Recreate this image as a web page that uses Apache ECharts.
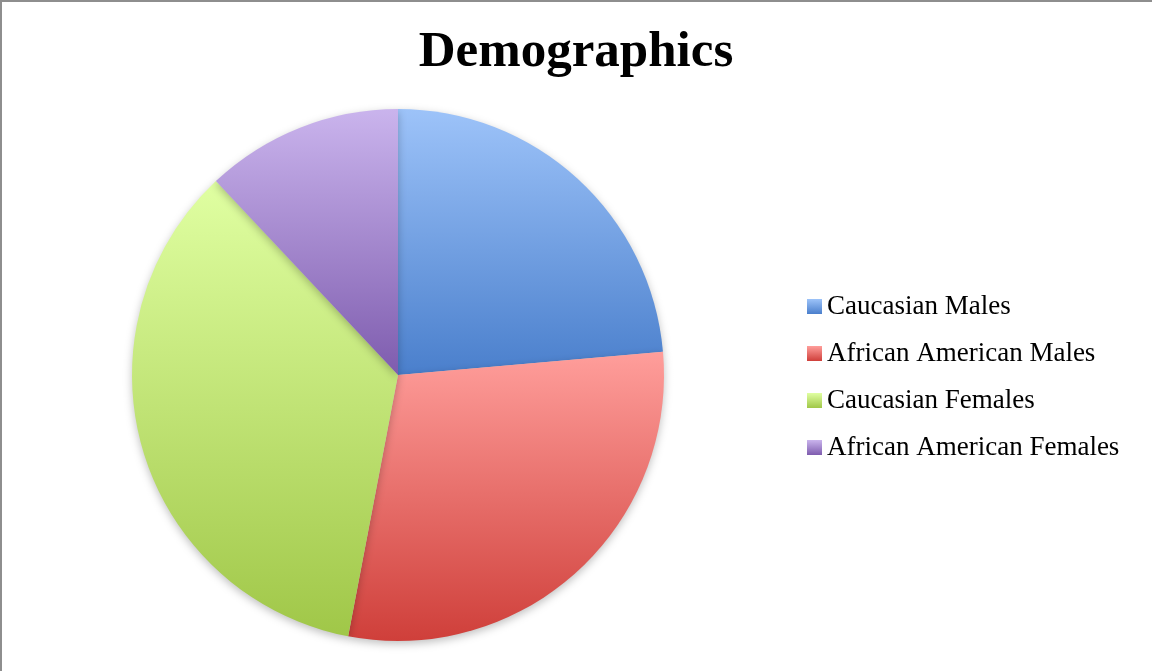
<!DOCTYPE html>
<html>
<head>
<meta charset="utf-8">
<title>Demographics</title>
<script src="https://cdn.jsdelivr.net/npm/echarts@6/dist/echarts.min.js"></script>
<style>
  html, body { margin: 0; padding: 0; background: #ffffff; }
  #chart { width: 1152px; height: 671px; }
</style>
</head>
<body>
<div id="chart"></div>
<script>
// Group names and their shares (percent)
const categories = ['Caucasian Males', 'African American Males', 'Caucasian Females', 'African American Females'];
const values = [23.6, 29.4, 35, 12];
// Light (top) and dark (bottom) shade for each slice's vertical gradient
const lightShades = ['#9dc3f9', '#ff9e9b', '#e0ffa2', '#cab4ed'];
const darkShades = ['#4a7fcc', '#cf3f3a', '#a0c748', '#7e5cae'];

function shade(i) {
  return new echarts.graphic.LinearGradient(0, 0, 0, 1, [
    { offset: 0, color: lightShades[i] },
    { offset: 1, color: darkShades[i] }
  ]);
}

const chart = echarts.init(document.getElementById('chart'), null, { renderer: 'canvas' });

chart.setOption({
  animation: false,
  backgroundColor: '#ffffff',
  title: {
    text: 'Demographics',
    left: 'center',
    top: 22,
    textStyle: {
      fontFamily: '"Liberation Serif", serif',
      fontWeight: 'bold',
      fontSize: 51,
      color: '#000000'
    }
  },
  legend: {
    orient: 'vertical',
    left: 802,
    top: 288,
    itemWidth: 15,
    itemHeight: 15,
    itemGap: 20,
    icon: 'rect',
    selectedMode: false,
    textStyle: {
      fontFamily: '"Liberation Serif", serif',
      fontSize: 27,
      lineHeight: 27,
      color: '#000000'
    },
    data: categories
  },
  graphic: [
    { type: 'rect', shape: { x: 0, y: 0, width: 1152, height: 2 }, style: { fill: '#8e8e8e' }, silent: true },
    { type: 'rect', shape: { x: 0, y: 0, width: 2, height: 671 }, style: { fill: '#8e8e8e' }, silent: true }
  ],
  series: [{
    type: 'pie',
    center: [398, 375],
    radius: 266,
    startAngle: 90,
    clockwise: true,
    label: { show: false },
    labelLine: { show: false },
    emphasis: { disabled: true },
    itemStyle: {
      borderWidth: 0,
      shadowBlur: 8,
      shadowOffsetY: 3,
      shadowColor: 'rgba(0,0,0,0.25)'
    },
    data: categories.map((name, i) => ({
      name: name,
      value: values[i],
      itemStyle: { color: shade(i) }
    }))
  }]
});
</script>
</body>
</html>
